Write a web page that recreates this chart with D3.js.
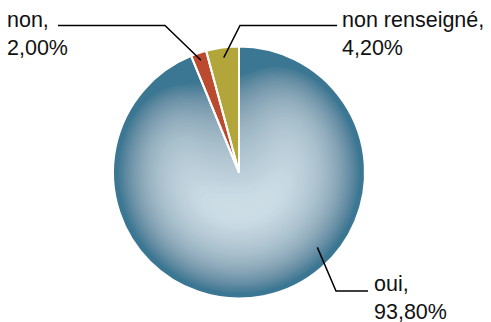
<!DOCTYPE html>
<html>
<head>
<meta charset="utf-8">
<script src="https://cdn.jsdelivr.net/npm/d3@7/dist/d3.min.js"></script>
<style>
  html, body { margin: 0; padding: 0; background: #fff; }
  svg { display: block; }
  text { font-family: "Liberation Sans", Arial, sans-serif; font-size: 21.5px; fill: #111; }
</style>
</head>
<body>
<svg id="chart" width="491" height="322"></svg>
<script>
// Réponses (en %)
const categories = ["oui", "non", "non renseigné"];
const values = [93.8, 2.0, 4.2];

// Slice colours
const colors = ["#d3e3eb", "#bb4a2e", "#b2a63a"];
const edgeBlue = "#3b7793";

// Label placement: anchor on the slice (angle in degrees, fraction of radius), elbow, text origin
const labelLayout = [
  { angle: 133.7, rf: 0.86, elbow: [336, 291], end: [368, 291], text: [374, 291] },
  { angle: null,  rf: 0.94, elbow: [165, 25.5], end: [58, 25.5], text: [7, 27] },
  { angle: null,  rf: 0.92, elbow: [240, 25.5], end: [337, 25.5], text: [342, 27] }
];

const width = 491, height = 322;
const cx = 239, cy = 172.5, radius = 126;

const frLocale = d3.formatLocale({ decimal: ",", thousands: "\u00a0", grouping: [3], currency: ["", " €"] });
const fmt = v => frLocale.format(".2f")(v) + "%";

const svg = d3.select("#chart");
const defs = svg.append("defs");

// Inner shading: darkens the slice towards its outline
const filt = defs.append("filter")
  .attr("id", "innerShade")
  .attr("x", "-20%").attr("y", "-20%")
  .attr("width", "140%").attr("height", "140%");
filt.append("feGaussianBlur").attr("in", "SourceAlpha").attr("stdDeviation", 36).attr("result", "blur");
filt.append("feComponentTransfer").attr("in", "blur").attr("result", "edge")
  .append("feFuncA").attr("type", "table")
  .attr("tableValues", "1 1 1 1 1 1 1 1 1 1 1 0.94 0.87 0.8 0.72 0.64 0.55 0.46 0.36 0.23 0");
filt.append("feFlood").attr("flood-color", edgeBlue).attr("result", "dark");
filt.append("feComposite").attr("in", "dark").attr("in2", "edge").attr("operator", "in").attr("result", "shade");
filt.append("feComposite").attr("in", "shade").attr("in2", "SourceAlpha").attr("operator", "in").attr("result", "shadeClip");
const merge = filt.append("feMerge");
merge.append("feMergeNode").attr("in", "SourceGraphic");
merge.append("feMergeNode").attr("in", "shadeClip");

const pie = d3.pie().sort(null).value(d => d.value);
const arcs = pie(categories.map((c, i) => ({ cat: c, value: values[i] })));
const arc = d3.arc().innerRadius(0).outerRadius(radius);

const g = svg.append("g").attr("transform", `translate(${cx},${cy})`);

// Fills
g.selectAll("path.fill")
  .data(arcs)
  .join("path")
  .attr("class", "fill")
  .attr("d", arc)
  .attr("fill", (d, i) => colors[i])
  .attr("filter", (d, i) => i === 0 ? "url(#innerShade)" : null);

// White separators
g.selectAll("path.sep")
  .data(arcs)
  .join("path")
  .attr("class", "sep")
  .attr("d", arc)
  .attr("fill", "none")
  .attr("stroke", "#fff")
  .attr("stroke-width", 2)
  .attr("stroke-linejoin", "miter");

// Leader lines and labels
arcs.forEach((d, i) => {
  const L = labelLayout[i];
  const a = L.angle !== null ? L.angle * Math.PI / 180 : (d.startAngle + d.endAngle) / 2;
  const sx = cx + Math.sin(a) * radius * L.rf;
  const sy = cy - Math.cos(a) * radius * L.rf;
  svg.append("polyline")
    .attr("points", [[sx, sy], L.elbow, L.end].map(p => p.join(",")).join(" "))
    .attr("fill", "none")
    .attr("stroke", "#000")
    .attr("stroke-width", 1.5);
  const t = svg.append("text")
    .attr("x", L.text[0]).attr("y", L.text[1]);
  t.append("tspan").attr("x", L.text[0]).text(categories[i] + ",");
  t.append("tspan").attr("x", L.text[0]).attr("dy", 27.5).text(fmt(values[i]));
});
</script>
</body>
</html>
